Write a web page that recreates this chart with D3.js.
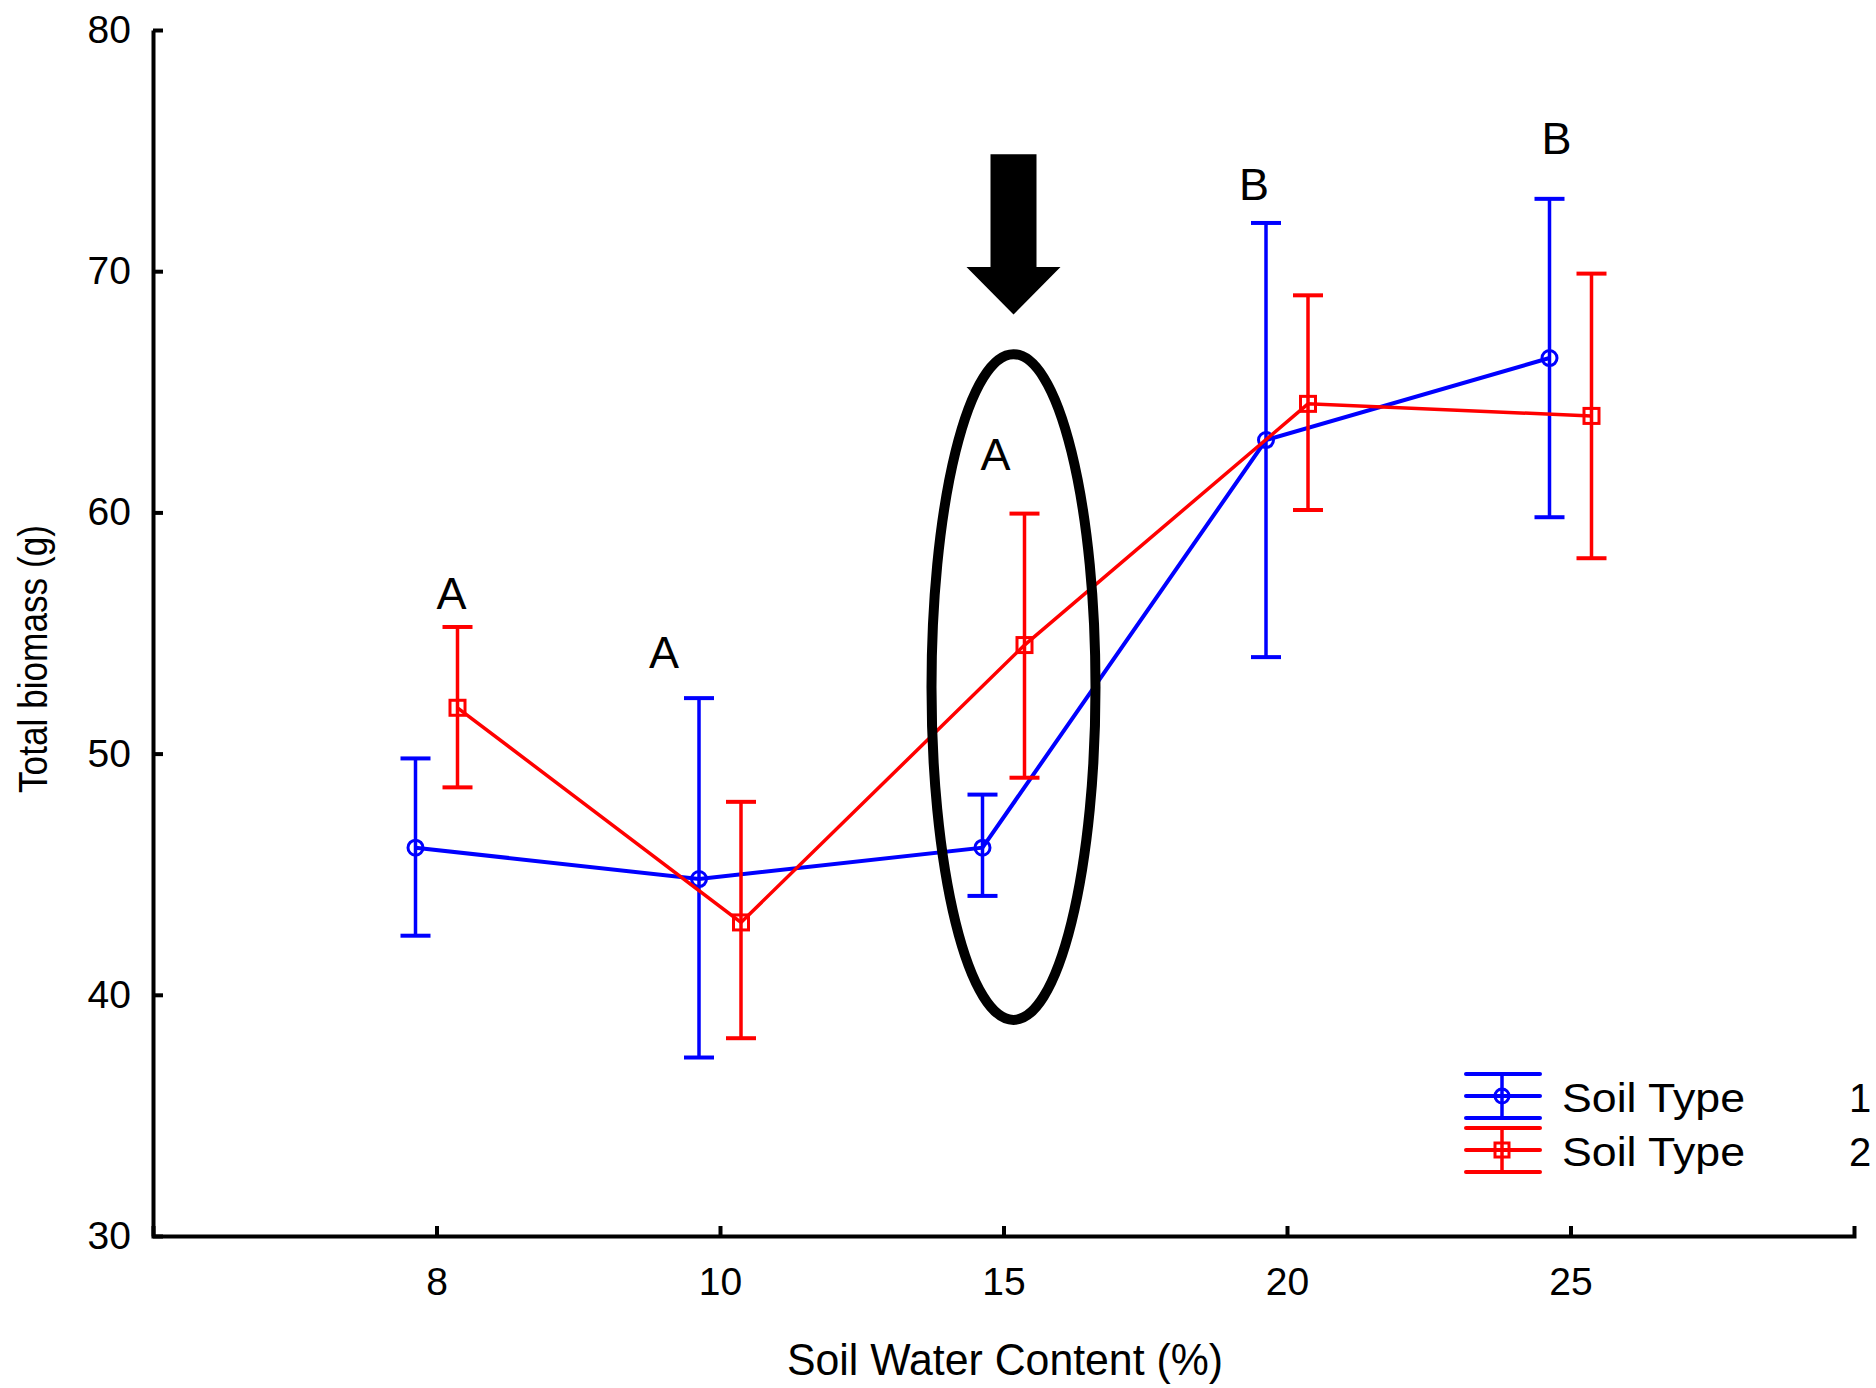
<!DOCTYPE html>
<html>
<head>
<meta charset="utf-8">
<script src="https://cdn.jsdelivr.net/npm/d3@7"></script>
<style>
  html, body { margin: 0; padding: 0; background: #fff; }
  svg { display: block; font-family: "Liberation Sans", Arial, sans-serif; }
</style>
</head>
<body>
<svg id="chart" width="1876" height="1388"></svg>
<script>
// ---- data ----
const categories = ["8", "10", "15", "20", "25"];
const yTicks = [30, 40, 50, 60, 70, 80];

const soil1Mean  = [46.1, 44.8, 46.1, 63.0, 66.4];
const soil1Upper = [49.8, 52.3, 48.3, 72.0, 73.0];
const soil1Lower = [42.45, 37.4, 44.1, 54.0, 59.8];

const soil2Mean  = [51.9, 43.0, 54.5, 64.5, 64.0];
const soil2Upper = [55.25, 48.0, 59.95, 69.0, 69.9];
const soil2Lower = [48.6, 38.2, 49.0, 60.1, 58.1];

const seriesNames = ["Soil Type", "Soil Type"];
const seriesCodes = ["1", "2"];

const letterText  = ["A", "A", "A", "B", "B"];
const letterValue = [56.0, 53.55, 61.75, 72.95, 74.87];

// annotation (arrow + ellipse around the 15 % group), in data units
const arrowValues   = [74.85, 70.17, 68.2];   // shaft top, head start, tip
const ellipseValues = [52.76, 13.8];          // centre, half-height

// ---- layout ----
const svg = d3.select("#chart");
const x = d3.scalePoint().domain(categories).range([153, 1854]).padding(1);
const y = d3.scaleLinear().domain([30, 80]).range([1236, 30]);

const font = '"Liberation Sans", Arial, sans-serif';

// axes
const yAxis = svg.append("g").attr("transform", "translate(153,0)")
  .call(d3.axisLeft(y).tickValues(yTicks).tickSizeInner(-10).tickSizeOuter(0).tickPadding(22));
const xAxis = svg.append("g").attr("transform", "translate(0,1236)")
  .call(d3.axisBottom(x).tickSizeInner(-10).tickSizeOuter(-10).tickPadding(31));
[yAxis, xAxis].forEach(g => {
  g.selectAll("path.domain").attr("stroke", "#000").attr("stroke-width", 4).attr("fill", "none");
  g.selectAll(".tick line").attr("stroke", "#000").attr("stroke-width", 4);
  g.selectAll(".tick text").attr("fill", "#000").style("font-size", "39px").style("font-family", font);
});

// axis titles
svg.append("text")
  .attr("x", 1005).attr("y", 1375)
  .attr("text-anchor", "middle")
  .attr("textLength", 436).attr("lengthAdjust", "spacingAndGlyphs")
  .style("font-size", "45px").style("font-family", font)
  .text("Soil Water Content (%)");

svg.append("text")
  .attr("transform", "translate(47,659) rotate(-90)")
  .attr("text-anchor", "middle")
  .attr("textLength", 268).attr("lengthAdjust", "spacingAndGlyphs")
  .style("font-size", "41px").style("font-family", font)
  .text("Total biomass (g)");

// series
const series = [
  { mean: soil1Mean, upper: soil1Upper, lower: soil1Lower, color: "#0000ff", off: -21, marker: "circle", lw: 4 },
  { mean: soil2Mean, upper: soil2Upper, lower: soil2Lower, color: "#ff0000", off: 21, marker: "square", lw: 3.5 }
];

const capHalf = 15;
series.forEach(s => {
  const g = svg.append("g");
  const pts = categories.map((c, i) => ({ c, i, m: s.mean[i], u: s.upper[i], l: s.lower[i] }));
  const line = d3.line().x(d => x(d.c) + s.off).y(d => y(d.m));
  g.append("path").datum(pts).attr("d", line)
    .attr("fill", "none").attr("stroke", s.color).attr("stroke-width", s.lw);
  pts.forEach(d => {
    const cx = x(d.c) + s.off;
    g.append("line").attr("x1", cx).attr("x2", cx).attr("y1", y(d.u)).attr("y2", y(d.l))
      .attr("stroke", s.color).attr("stroke-width", 3.5);
    [d.u, d.l].forEach(v => {
      g.append("line").attr("x1", cx - capHalf).attr("x2", cx + capHalf).attr("y1", y(v)).attr("y2", y(v))
        .attr("stroke", s.color).attr("stroke-width", 4);
    });
    if (s.marker === "circle") {
      g.append("circle").attr("cx", cx).attr("cy", y(d.m)).attr("r", 7.5)
        .attr("fill", "none").attr("stroke", s.color).attr("stroke-width", 3);
    } else {
      g.append("rect").attr("x", cx - 7.5).attr("y", y(d.m) - 7.5).attr("width", 15).attr("height", 15)
        .attr("fill", "none").attr("stroke", s.color).attr("stroke-width", 3);
    }
  });
});

// significance letters
const letterOffsets = [15, -56, -8, -33, -14];
categories.forEach((c, i) => {
  svg.append("text")
    .attr("x", x(c) + letterOffsets[i]).attr("y", y(letterValue[i]))
    .attr("text-anchor", "middle")
    .style("font-size", "45px").style("font-family", font)
    .text(letterText[i]);
});

// annotation arrow + ellipse
const ax = x("15") + 10;
const shaftHalf = 23, headHalf = 47;
svg.append("path")
  .attr("d", `M${ax - shaftHalf},${y(arrowValues[0])} L${ax + shaftHalf},${y(arrowValues[0])} ` +
             `L${ax + shaftHalf},${y(arrowValues[1])} L${ax + headHalf},${y(arrowValues[1])} ` +
             `L${ax},${y(arrowValues[2])} L${ax - headHalf},${y(arrowValues[1])} ` +
             `L${ax - shaftHalf},${y(arrowValues[1])} Z`)
  .attr("fill", "#000");

svg.append("ellipse")
  .attr("cx", ax).attr("cy", y(ellipseValues[0]))
  .attr("rx", 82).attr("ry", y(ellipseValues[0] - ellipseValues[1]) - y(ellipseValues[0]))
  .attr("fill", "none").attr("stroke", "#000").attr("stroke-width", 10);

// legend
const legendY = [1096, 1150];
series.forEach((s, k) => {
  const g = svg.append("g");
  const cy = legendY[k];
  [-22, 0, 22].forEach(dy => {
    g.append("line").attr("x1", 1466).attr("x2", 1540).attr("y1", cy + dy).attr("y2", cy + dy)
      .attr("stroke", s.color).attr("stroke-width", 4).attr("stroke-linecap", "round");
  });
  g.append("line").attr("x1", 1502).attr("x2", 1502).attr("y1", cy - 22).attr("y2", cy + 22)
    .attr("stroke", s.color).attr("stroke-width", 3.5);
  if (s.marker === "circle") {
    g.append("circle").attr("cx", 1502).attr("cy", cy).attr("r", 7)
      .attr("fill", "none").attr("stroke", s.color).attr("stroke-width", 3);
  } else {
    g.append("rect").attr("x", 1495).attr("y", cy - 7).attr("width", 14).attr("height", 14)
      .attr("fill", "none").attr("stroke", s.color).attr("stroke-width", 3);
  }
  g.append("text").attr("x", 1562).attr("y", cy + 16)
    .attr("textLength", 183).attr("lengthAdjust", "spacingAndGlyphs")
    .style("font-size", "40px").style("font-family", font)
    .text(seriesNames[k]);
  g.append("text").attr("x", 1849).attr("y", cy + 16)
    .style("font-size", "40px").style("font-family", font)
    .text(seriesCodes[k]);
});
</script>
</body>
</html>
